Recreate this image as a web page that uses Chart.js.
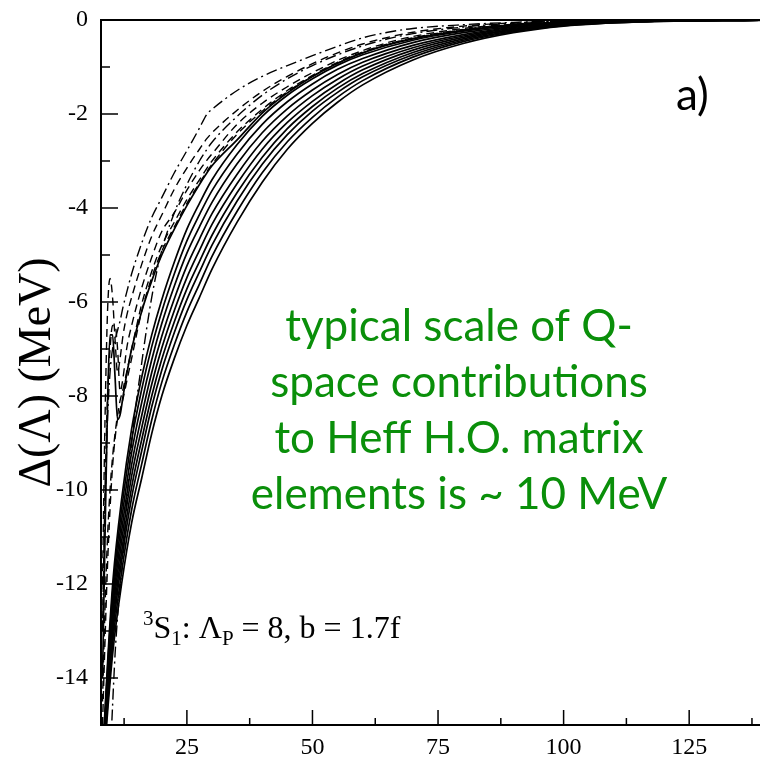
<!DOCTYPE html>
<html>
<head>
<meta charset="utf-8">
<script src="https://cdn.jsdelivr.net/npm/chart.js@4.4.1/dist/chart.umd.min.js"></script>
<style>
html,body{margin:0;padding:0;background:#fff;overflow:hidden;}
#wrap{width:760px;height:762px;}
</style>
</head>
<body>
<div id="wrap"><canvas id="c" width="760" height="762"></canvas></div>
<script>
// ---- x sample positions (Lambda) ----
const xFine = [8.2, 8.7, 9.2, 9.7, 10.2, 10.7, 11.2, 11.7, 12.3, 13, 14, 16, 18, 20, 22.5, 25, 27.5, 29, 30, 35, 40, 45, 50, 55, 60, 65, 70, 80, 90, 100, 115, 140];
const xGrid = [8.3, 9.3, 10.3, 12, 14, 16, 18, 20, 22.5, 25, 27.5, 30, 35, 40, 45, 50, 55, 60, 70, 80, 90, 100, 115, 140];

// ---- solid curves (band) on xGrid ----
const B0 = [-15.5,-13.5,-11.9,-10.2,-8.7,-7.6,-6.7,-5.95,-5.15,-4.45,-3.9,-3.4,-2.65,-2.05,-1.6,-1.25,-0.96,-0.74,-0.43,-0.24,-0.12,-0.06,-0.02,0];
const B1 = [-15.56,-13.63,-12.08,-10.42,-8.94,-7.86,-6.95,-6.2,-5.4,-4.7,-4.14,-3.63,-2.85,-2.22,-1.74,-1.36,-1.05,-0.82,-0.48,-0.27,-0.14,-0.07,-0.02,0];
const B2 = [-15.63,-13.78,-12.28,-10.65,-9.2,-8.14,-7.23,-6.46,-5.66,-4.96,-4.4,-3.88,-3.06,-2.4,-1.89,-1.49,-1.16,-0.9,-0.54,-0.31,-0.16,-0.08,-0.03,0];
const B3 = [-15.69,-13.92,-12.47,-10.88,-9.46,-8.42,-7.5,-6.73,-5.93,-5.23,-4.66,-4.12,-3.28,-2.58,-2.04,-1.61,-1.26,-0.98,-0.59,-0.34,-0.18,-0.09,-0.03,0];
const B4 = [-15.75,-14.05,-12.65,-11.1,-9.7,-8.68,-7.75,-6.98,-6.18,-5.48,-4.9,-4.35,-3.48,-2.75,-2.18,-1.73,-1.36,-1.06,-0.64,-0.37,-0.2,-0.1,-0.03,0];
const B5 = [-15.81,-14.18,-12.83,-11.32,-9.94,-8.93,-8.0,-7.22,-6.42,-5.72,-5.14,-4.58,-3.67,-2.92,-2.31,-1.84,-1.45,-1.14,-0.69,-0.4,-0.21,-0.1,-0.03,0];
const B6 = [-15.87,-14.3,-13.0,-11.51,-10.16,-9.17,-8.23,-7.45,-6.65,-5.95,-5.36,-4.79,-3.85,-3.07,-2.44,-1.94,-1.54,-1.21,-0.74,-0.43,-0.23,-0.11,-0.03,0];
const B7 = [-15.93,-14.45,-13.19,-11.75,-10.42,-9.45,-8.51,-7.71,-6.91,-6.21,-5.62,-5.03,-4.07,-3.25,-2.59,-2.07,-1.64,-1.29,-0.79,-0.46,-0.25,-0.12,-0.04,0];
const R  = [-16,-14.6,-13.4,-12.0,-10.7,-9.75,-8.8,-8.0,-7.2,-6.5,-5.9,-5.3,-4.3,-3.45,-2.75,-2.2,-1.75,-1.38,-0.85,-0.5,-0.27,-0.13,-0.04,-0.005];

// ---- curves on xFine ----
const U  = [-14,-11,-8.2,-6.7,-6.7,-7.6,-8.5,-8.4,-8.0,-7.55,-7.0,-6.2,-5.55,-5.0,-4.45,-3.95,-3.5,-3.25,-3.1,-2.55,-1.98,-1.55,-1.2,-0.92,-0.7,-0.53,-0.4,-0.22,-0.11,-0.05,-0.015,0];
const Da = [-12,-8.5,-6.2,-5.5,-5.9,-6.8,-7.5,-7.2,-6.7,-6.3,-5.9,-5.2,-4.6,-4.15,-3.6,-3.15,-2.75,-2.52,-2.4,-1.92,-1.52,-1.2,-0.93,-0.7,-0.51,-0.37,-0.26,-0.13,-0.06,-0.03,-0.01,0];
const Db = [-13,-10,-8.0,-7.0,-6.5,-6.5,-7.0,-7.9,-7.6,-7.0,-6.5,-5.7,-5.05,-4.5,-4.1,-3.62,-3.2,-2.98,-2.85,-2.22,-1.77,-1.42,-1.12,-0.86,-0.65,-0.48,-0.35,-0.18,-0.09,-0.04,-0.01,0];
const Dc = [-14.5,-12.5,-11,-10,-9.3,-8.8,-8.4,-8.1,-7.85,-7.5,-7.0,-6.05,-5.35,-4.8,-4.3,-3.82,-3.4,-3.15,-3.0,-2.38,-1.9,-1.5,-1.18,-0.9,-0.68,-0.51,-0.38,-0.2,-0.1,-0.05,-0.015,0];
const Dd = [-15,-13.2,-11.6,-10.4,-9.5,-8.9,-8.5,-8.3,-8.05,-7.7,-7.2,-6.2,-5.48,-4.92,-4.4,-3.9,-3.47,-3.22,-3.07,-2.43,-1.94,-1.53,-1.2,-0.92,-0.7,-0.52,-0.39,-0.21,-0.1,-0.05,-0.015,0];
const D1 = [-13,-10.5,-8.5,-7.5,-7.0,-6.8,-6.6,-6.4,-6.1,-5.8,-5.4,-4.75,-4.2,-3.78,-3.25,-2.78,-2.3,-2.0,-1.9,-1.5,-1.2,-0.97,-0.76,-0.56,-0.38,-0.26,-0.18,-0.1,-0.05,-0.02,-0.005,0];
const D2 = [null,null,null,-15.8,-14.6,-13.5,-12.7,-12.1,-11.4,-10.3,-9.0,-7.3,-5.9,-4.9,-4.1,-3.5,-3.0,-2.75,-2.6,-2.05,-1.6,-1.25,-0.97,-0.74,-0.55,-0.4,-0.29,-0.15,-0.07,-0.03,-0.01,0];

// ---- ticks ----
const xTickValues = [12.5, 25, 37.5, 50, 62.5, 75, 87.5, 100, 112.5, 125, 137.5];
const xLabelStep = 25;
const yLabelStep = 2;

function pts(xs, ys){ return xs.map((x,i)=>({x:x, y:ys[i]})); }

const DASH = [8,5];
const DASHDOT = [11,4,2,4];
function ds(xs, ys, dash, w){
  return {data: pts(xs, ys), borderColor:'#000', borderWidth: w, borderDash: dash, pointRadius:0, fill:false, cubicInterpolationMode:'monotone', spanGaps:false};
}

const datasets = [
  ...[B0,B1,B2,B3,B4,B5,B6,B7,R].map(a => ds(xGrid, a, [], 1.7)),
  ds(xFine, U, [], 1.7),
  ds(xFine, Da, DASH, 1.4),
  ds(xFine, Db, DASH, 1.4),
  ds(xFine, Dc, DASH, 1.4),
  ds(xFine, Dd, DASH, 1.4),
  ds(xFine, D1, DASHDOT, 1.4),
  ds(xFine, D2, DASHDOT, 1.4)
];

const frame = {
  id:'frame',
  afterDatasetsDraw(chart){
    const {ctx, chartArea:a, scales:{x, y}} = chart;
    ctx.save();
    ctx.strokeStyle = '#000';
    ctx.lineWidth = 1.5;
    ctx.beginPath();
    x.ticks.forEach(t => {
      const px = x.getPixelForValue(t.value);
      const len = (t.value % xLabelStep === 0) ? 15 : 7;
      ctx.moveTo(px, a.bottom); ctx.lineTo(px, a.bottom - len);
    });
    y.ticks.forEach(t => {
      const py = y.getPixelForValue(t.value);
      const len = (t.value % yLabelStep === 0) ? 17 : 9;
      ctx.moveTo(a.left, py); ctx.lineTo(a.left + len, py);
    });
    ctx.stroke();
    ctx.lineWidth = 2;
    ctx.beginPath();
    ctx.moveTo(a.left, a.top); ctx.lineTo(a.right, a.top);
    ctx.stroke();

    // panel label
    ctx.fillStyle = '#000';
    ctx.textAlign = 'left';
    ctx.textBaseline = 'alphabetic';
    ctx.font = '44px Lato';
    ctx.fillText('a)', 676, 110);

    // green note
    ctx.fillStyle = '#0a8f0a';
    ctx.textAlign = 'center';
    ctx.font = '44px Lato';
    const lines = ['typical scale of Q-', 'space contributions', 'to Heff H.O. matrix', 'elements is ~ 10 MeV'];
    const base = [341, 397, 453, 509];
    lines.forEach((s,i) => ctx.fillText(s, 459, base[i]));

    // 3S1 label
    ctx.fillStyle = '#000';
    ctx.textAlign = 'left';
    let cx = 143;
    const big = '32px "Liberation Serif"', small = '21px "Liberation Serif"';
    const parts = [
      ['3', small, 625], ['S', big, 638], ['1', small, 645], [': Λ', big, 638], ['P', small, 645], [' = 8, b = 1.7f', big, 638]
    ];
    parts.forEach(([s,f,b]) => { ctx.font = f; ctx.fillText(s, cx, b); cx += ctx.measureText(s).width; });
    ctx.restore();
  }
};

new Chart(document.getElementById('c'), {
  type:'line',
  data:{datasets},
  options:{
    responsive:false,
    animation:false,
    events:[],
    layout:{padding:{top:20, right:0, left:0, bottom:0}},
    plugins:{legend:{display:false}, tooltip:{enabled:false}},
    elements:{point:{radius:0}},
    scales:{
      x:{
        type:'linear', min:7.9, max:139.1,
        grid:{display:false, drawTicks:false},
        border:{display:true, color:'#000', width:2},
        afterBuildTicks: s => { s.ticks = xTickValues.map(v => ({value:v})); },
        ticks:{
          autoSkip:false, maxRotation:0, color:'#000', padding:8,
          font:{family:'Liberation Serif', size:24},
          callback: v => (v % xLabelStep === 0 ? String(v) : '')
        },
        afterFit: s => { s.height = 37; s.paddingLeft = 0; s.paddingRight = 0; }
      },
      y:{
        type:'linear', min:-15, max:0,
        grid:{display:false, drawTicks:false},
        border:{display:true, color:'#000', width:2},
        ticks:{
          stepSize:1, autoSkip:false, color:'#000', padding:13,
          font:{family:'Liberation Serif', size:24},
          callback: v => (v % yLabelStep === 0 ? String(v) : '')
        },
        title:{display:true, text:'Δ(Λ) (MeV)', color:'#000', font:{family:'Liberation Serif', size:46}, padding:{top:10, bottom:0}},
        afterFit: s => { s.width = 101; s.paddingTop = 0; s.paddingBottom = 0; }
      }
    }
  },
  plugins:[frame]
});
</script>
</body>
</html>
